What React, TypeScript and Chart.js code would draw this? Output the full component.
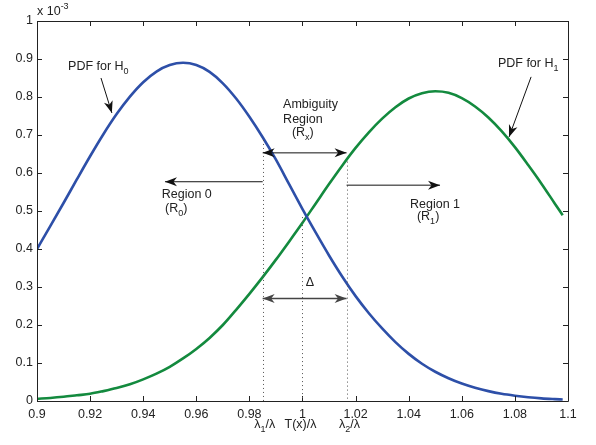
import React, { useEffect, useRef } from "react";
import { Chart, registerables } from "chart.js";

Chart.register(...registerables);

// ---- data (values in units of 1e-3) ----
const xValues = [
  0.9, 0.905, 0.91, 0.915, 0.92, 0.925, 0.93, 0.935, 0.94, 0.945,
  0.95, 0.955, 0.96, 0.965, 0.97, 0.975, 0.98, 0.985, 0.99, 0.995,
  1.0, 1.005, 1.01, 1.015, 1.02, 1.025, 1.03, 1.035, 1.04, 1.045,
  1.05, 1.055, 1.06, 1.065, 1.07, 1.075, 1.08, 1.085, 1.09, 1.095, 1.098,
];
const pdfH0 = [
  0.4, 0.46, 0.521, 0.583, 0.644, 0.702, 0.755, 0.801, 0.839, 0.867,
  0.884, 0.89, 0.884, 0.866, 0.836, 0.796, 0.748, 0.694, 0.635, 0.57,
  0.505, 0.443, 0.383, 0.327, 0.276, 0.231, 0.191, 0.155, 0.124, 0.098,
  0.077, 0.06, 0.046, 0.035, 0.026, 0.019, 0.014, 0.01, 0.007, 0.005, 0.004,
];
const pdfH1 = [
  0.006, 0.008, 0.011, 0.015, 0.019, 0.026, 0.034, 0.044, 0.057, 0.072,
  0.09, 0.112, 0.137, 0.166, 0.2, 0.24, 0.282, 0.326, 0.372, 0.42,
  0.469, 0.52, 0.571, 0.62, 0.666, 0.707, 0.743, 0.773, 0.796, 0.81,
  0.815, 0.811, 0.797, 0.775, 0.746, 0.71, 0.668, 0.621, 0.572, 0.52, 0.489,
];
const xTickLabels = ["0.9", "0.92", "0.94", "0.96", "0.98", "1", "1.02", "1.04", "1.06", "1.08", "1.1"];
const yTickLabels = ["0", "0.1", "0.2", "0.3", "0.4", "0.5", "0.6", "0.7", "0.8", "0.9", "1"];
const lambda1 = 0.985;
const tPoint = 1.0;
const lambda2 = 1.0166;

const FONT = '"Liberation Sans", Arial, Helvetica, sans-serif';
const TEXT = "#222222";
const BLUE = "#2d4fa8";
const GREEN = "#138a3e";

type Part = [string, "" | "sub" | "sup"];

function drawRich(ctx: CanvasRenderingContext2D, x: number, y: number, parts: Part[], align: "left" | "center" = "left", size = 12.5) {
  const small = Math.round(size * 0.75);
  const fontFor = (k: string) => `${k ? small : size}px ${FONT}`;
  let total = 0;
  for (const [t, k] of parts) {
    ctx.font = fontFor(k);
    total += ctx.measureText(t).width;
  }
  let cx = align === "center" ? x - total / 2 : x;
  ctx.fillStyle = TEXT;
  ctx.textBaseline = "alphabetic";
  ctx.textAlign = "left";
  for (const [t, k] of parts) {
    ctx.font = fontFor(k);
    const dy = k === "sub" ? 4 : k === "sup" ? -6 : 0;
    ctx.fillText(t, cx, y + dy);
    cx += ctx.measureText(t).width;
  }
}

function arrowHead(ctx: CanvasRenderingContext2D, tx: number, ty: number, fx: number, fy: number, color: string) {
  const ang = Math.atan2(ty - fy, tx - fx);
  const L = 12, W = 4.5, N = 3.5;
  const dx = Math.cos(ang), dy = Math.sin(ang);
  const pxp = -dy, pyp = dx;
  ctx.beginPath();
  ctx.moveTo(tx, ty);
  ctx.lineTo(tx - L * dx + W * pxp, ty - L * dy + W * pyp);
  ctx.lineTo(tx - (L - N) * dx, ty - (L - N) * dy);
  ctx.lineTo(tx - L * dx - W * pxp, ty - L * dy - W * pyp);
  ctx.closePath();
  ctx.fillStyle = color;
  ctx.fill();
}

function arrow(ctx: CanvasRenderingContext2D, x1: number, y1: number, x2: number, y2: number, both = false, color = "#111", width = 1) {
  ctx.save();
  ctx.strokeStyle = color;
  ctx.lineWidth = width;
  ctx.setLineDash([]);
  ctx.beginPath();
  ctx.moveTo(x1, y1);
  ctx.lineTo(x2, y2);
  ctx.stroke();
  arrowHead(ctx, x2, y2, x1, y1, color);
  if (both) arrowHead(ctx, x1, y1, x2, y2, color);
  ctx.restore();
}

const annotPlugin = {
  id: "annot",
  afterDatasetsDraw(chart: any) {
    const ctx: CanvasRenderingContext2D = chart.ctx;
    const xs = chart.scales.x, ys = chart.scales.y;
    const X = (v: number) => xs.getPixelForValue(v);
    const Y = (v: number) => ys.getPixelForValue(v);
    const { left, right, top, bottom } = chart.chartArea;
    ctx.save();

    // frame + inward ticks
    ctx.strokeStyle = "#222";
    ctx.lineWidth = 1;
    ctx.beginPath();
    ctx.rect(Math.round(left) + 0.5, Math.round(top) + 0.5, Math.round(right - left), Math.round(bottom - top));
    ctx.stroke();
    const T = 5;
    ctx.beginPath();
    for (const l of xTickLabels) {
      const px = Math.round(X(parseFloat(l))) + 0.5;
      ctx.moveTo(px, bottom); ctx.lineTo(px, bottom - T);
      ctx.moveTo(px, top); ctx.lineTo(px, top + T);
    }
    for (const l of yTickLabels) {
      const py = Math.round(Y(parseFloat(l))) + 0.5;
      ctx.moveTo(left, py); ctx.lineTo(left + T, py);
      ctx.moveTo(right, py); ctx.lineTo(right - T, py);
    }
    ctx.stroke();

    // dotted verticals
    ctx.strokeStyle = "#555";
    ctx.setLineDash([1, 3]);
    ctx.beginPath();
    ctx.moveTo(Math.round(X(lambda1)) + 0.5, Y(0.687)); ctx.lineTo(Math.round(X(lambda1)) + 0.5, bottom);
    ctx.moveTo(Math.round(X(tPoint)) + 0.5, Y(0.484)); ctx.lineTo(Math.round(X(tPoint)) + 0.5, bottom);
    ctx.moveTo(Math.round(X(lambda2)) + 0.5, Y(0.63)); ctx.lineTo(Math.round(X(lambda2)) + 0.5, bottom);
    ctx.stroke();
    ctx.setLineDash([]);

    // exponent label
    drawRich(ctx, left, 15, [["x 10", ""], ["-3", "sup"]]);

    // PDF labels and arrows
    drawRich(ctx, X(0.9117), Y(0.871), [["PDF for H", ""], ["0", "sub"]]);
    arrow(ctx, X(0.9241), Y(0.85), X(0.9282), Y(0.758));
    drawRich(ctx, X(1.0736), Y(0.879), [["PDF for H", ""], ["1", "sub"]]);
    arrow(ctx, X(1.0861), Y(0.853), X(1.0778), Y(0.695));

    // Ambiguity region
    drawRich(ctx, X(0.9927), Y(0.771), [["Ambiguity", ""]]);
    drawRich(ctx, X(0.9927), Y(0.732), [["Region", ""]]);
    drawRich(ctx, X(0.996), Y(0.697), [["(R", ""], ["x", "sub"], [")", ""]]);
    arrow(ctx, X(lambda1), Y(0.653), X(lambda2), Y(0.653), true);

    // Region 0
    arrow(ctx, X(lambda1), Y(0.577), X(0.9482), Y(0.577));
    drawRich(ctx, X(0.947), Y(0.535), [["Region 0", ""]]);
    drawRich(ctx, X(0.9482), Y(0.498), [["(R", ""], ["0", "sub"], [")", ""]]);

    // Region 1
    arrow(ctx, X(lambda2), Y(0.568), X(1.0518), Y(0.568));
    drawRich(ctx, X(1.0405), Y(0.508), [["Region 1", ""]]);
    drawRich(ctx, X(1.0431), Y(0.476), [["(R", ""], ["1", "sub"], [")", ""]]);

    // Delta
    drawRich(ctx, X(1.0028), Y(0.303), [["Δ", ""]], "center");
    arrow(ctx, X(lambda1), Y(0.27), X(lambda2), Y(0.27), true, "#444", 1.5);

    // bottom labels
    const by = bottom + 27;
    drawRich(ctx, X(lambda1) + 2, by, [["λ", ""], ["1", "sub"], ["/λ", ""]], "center");
    drawRich(ctx, X(tPoint) - 2, by, [["T(x)/λ", ""]], "center");
    drawRich(ctx, X(lambda2) + 3, by, [["λ", ""], ["2", "sub"], ["/λ", ""]], "center");

    ctx.restore();
  },
};

export default function App() {
  const ref = useRef<HTMLCanvasElement>(null);
  useEffect(() => {
    if (!ref.current) return;
    const tickFont = { family: FONT, size: 12.5 };
    const chart = new Chart(ref.current, {
      type: "line",
      data: {
        datasets: [
          {
            label: "PDF for H0",
            data: xValues.map((x, i) => ({ x, y: pdfH0[i] })),
            borderColor: BLUE,
            borderWidth: 2.6,
            pointRadius: 0,
            cubicInterpolationMode: "monotone",
            fill: false,
          },
          {
            label: "PDF for H1",
            data: xValues.map((x, i) => ({ x, y: pdfH1[i] })),
            borderColor: GREEN,
            borderWidth: 2.6,
            pointRadius: 0,
            cubicInterpolationMode: "monotone",
            fill: false,
          },
        ],
      },
      options: {
        animation: false,
        responsive: false,
        events: [],
        layout: { padding: { left: 0, right: 28, top: 21, bottom: 0 } },
        plugins: { legend: { display: false }, tooltip: { enabled: false } },
        scales: {
          x: {
            type: "linear",
            min: 0.9,
            max: 1.1,
            grid: { display: false, drawTicks: false },
            border: { display: false },
            ticks: {
              stepSize: 0.02,
              autoSkip: false,
              maxRotation: 0,
              padding: 6,
              color: TEXT,
              font: tickFont,
              callback: (v: any) => xTickLabels.find((l) => Math.abs(parseFloat(l) - Number(v)) < 1e-6) ?? "",
            },
            afterFit: (s: any) => { s.height = 44; },
          },
          y: {
            type: "linear",
            min: 0,
            max: 1,
            grid: { display: false, drawTicks: false },
            border: { display: false },
            ticks: {
              stepSize: 0.1,
              padding: 4,
              color: TEXT,
              font: tickFont,
              callback: (v: any) => yTickLabels.find((l) => Math.abs(parseFloat(l) - Number(v)) < 1e-6) ?? "",
            },
            afterFit: (s: any) => { s.width = 37; },
          },
        },
      } as any,
      plugins: [annotPlugin],
    });
    return () => chart.destroy();
  }, []);
  return (
    <div style={{ position: "absolute", left: 0, top: 0, width: 596, height: 445, background: "#fff" }}>
      <canvas ref={ref} width={596} height={445} style={{ width: 596, height: 445 }} />
    </div>
  );
}
